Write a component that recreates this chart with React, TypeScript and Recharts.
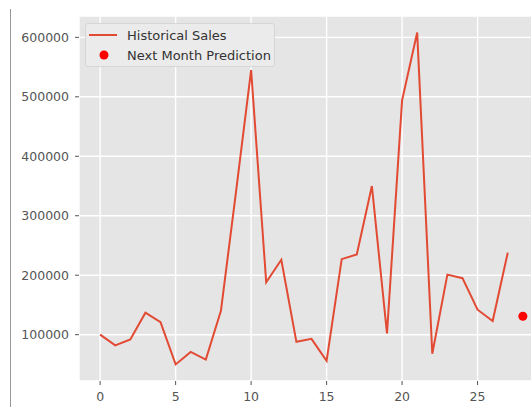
import React from 'react';
import {
  ComposedChart,
  Line,
  XAxis,
  YAxis,
  CartesianGrid,
} from 'recharts';

// monthly sales, index 0..27
const months = [
  0, 1, 2, 3, 4, 5, 6, 7, 8, 9, 10, 11, 12, 13, 14, 15, 16, 17, 18, 19, 20, 21, 22, 23, 24, 25, 26, 27,
];
const sales = [
  100000, 82000, 92000, 137000, 121000, 50000, 71000, 58000, 140000, 340000,
  545000, 188000, 226000, 88000, 93000, 56000, 227000, 235000, 350000, 102000,
  494000, 608000, 68000, 201000, 195000, 142000, 123000, 238000,
];
const predMonth = 28;
const predValue = 131000;

const xTicks = [0, 5, 10, 15, 20, 25];
const yTicks = [100000, 200000, 300000, 400000, 500000, 600000];

const FONT = '"DejaVu Sans", sans-serif';

const data = [
  ...months.map((m, i) => ({ x: m, sales: sales[i], pred: null as number | null })),
  { x: predMonth, sales: null as number | null, pred: predValue },
];

function LegendBox() {
  return (
    <div
      style={{
        position: 'absolute',
        left: 85,
        top: 23,
        width: 190,
        height: 44,
        boxSizing: 'border-box',
        background: '#ebebeb',
        border: '1px solid #d6d6d6',
        borderRadius: 3,
        fontFamily: FONT,
        fontSize: 13,
        color: '#333',
      }}
    >
      <div style={{ position: 'absolute', left: 3, top: 2, height: 18, display: 'flex', alignItems: 'center' }}>
        <svg width={28} height={10}>
          <line x1={0} y1={5} x2={28} y2={5} stroke="#E24A33" strokeWidth={2} />
        </svg>
        <span style={{ marginLeft: 10 }}>Historical Sales</span>
      </div>
      <div style={{ position: 'absolute', left: 3, top: 22, height: 18, display: 'flex', alignItems: 'center' }}>
        <svg width={28} height={10}>
          <circle cx={15} cy={5} r={4.5} fill="red" />
        </svg>
        <span style={{ marginLeft: 10 }}>Next Month Prediction</span>
      </div>
    </div>
  );
}

export default function App() {
  return (
    <div
      style={{
        position: 'fixed',
        left: 0,
        top: 0,
        width: 531,
        height: 411,
        overflow: 'hidden',
        background: '#fff',
      }}
    >
      <div style={{ position: 'absolute', left: 10, top: 9, width: 1, height: 398, background: '#999' }} />
      <ComposedChart
        width={560}
        height={411}
        data={data}
        margin={{ top: 16, right: 16, bottom: 0, left: 0 }}
        style={{ position: 'absolute', left: 0, top: 0 }}
      >
        <CartesianGrid fill="#e5e5e5" stroke="#ffffff" strokeWidth={1.4} />
        <XAxis
          type="number"
          dataKey="x"
          domain={[-1.4, 29.4]}
          ticks={xTicks}
          allowDataOverflow
          axisLine={false}
          tickLine={{ stroke: '#555' }}
          tickSize={4}
          tickMargin={7}
          height={30}
          tick={{ fontSize: 12.5, fill: '#555', fontFamily: FONT }}
        />
        <YAxis
          type="number"
          domain={[22100, 635900]}
          ticks={yTicks}
          allowDataOverflow
          axisLine={false}
          tickLine={{ stroke: '#555' }}
          tickSize={4}
          tickMargin={6}
          width={79}
          tick={{ fontSize: 12.5, fill: '#555', fontFamily: FONT }}
        />
        <Line
          type="linear"
          dataKey="sales"
          stroke="#E24A33"
          strokeWidth={2}
          dot={false}
          isAnimationActive={false}
        />
        <Line
          type="linear"
          dataKey="pred"
          stroke="none"
          dot={{ r: 4.5, fill: 'red', stroke: 'none' }}
          isAnimationActive={false}
        />
      </ComposedChart>
      <LegendBox />
    </div>
  );
}
